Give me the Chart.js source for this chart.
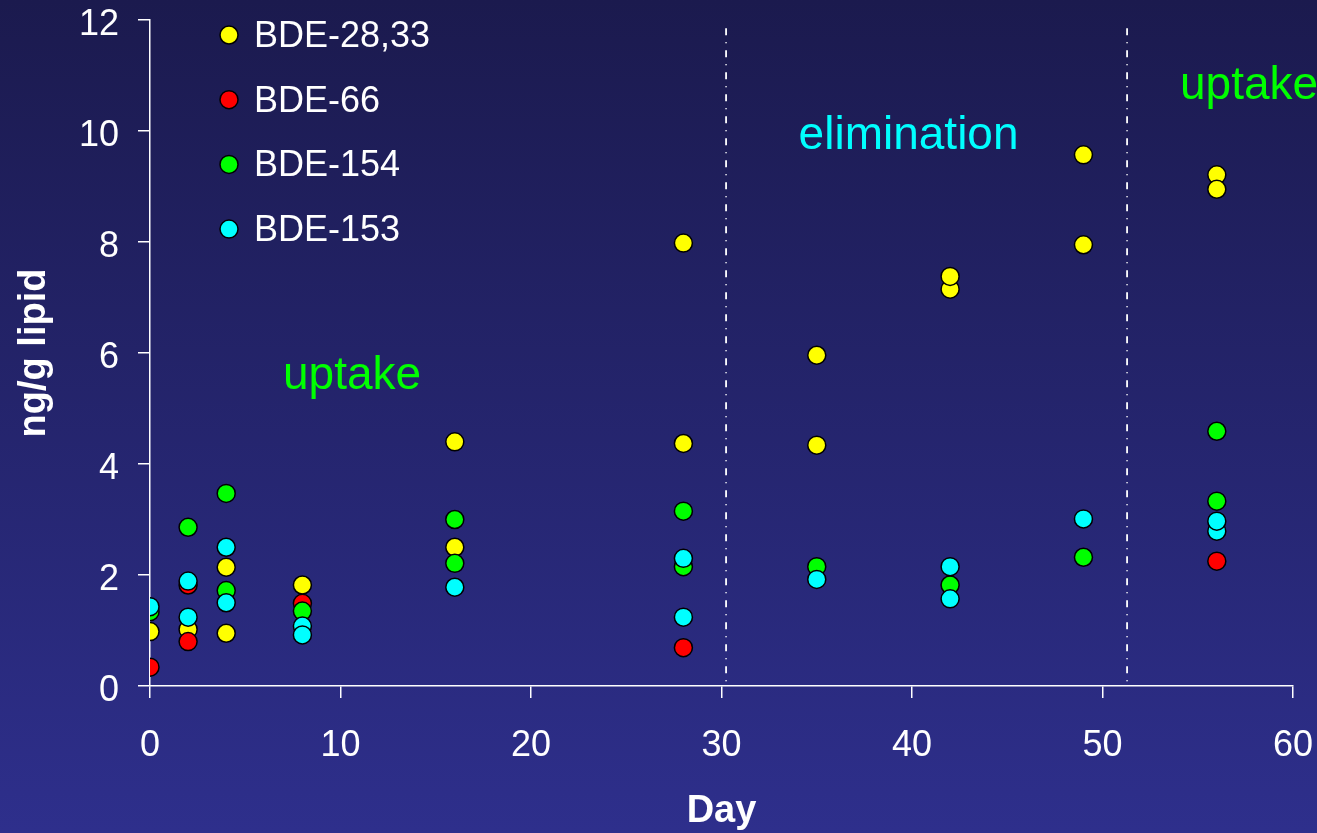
<!DOCTYPE html>
<html>
<head>
<meta charset="utf-8">
<script src="https://cdn.jsdelivr.net/npm/chart.js@4.4.1/dist/chart.umd.min.js"></script>
<style>
  html, body { margin: 0; padding: 0; }
  body { width: 1317px; height: 833px; background: linear-gradient(#1b1a4e, #2e2f8c); overflow: hidden; }
  #wrap { position: relative; width: 1317px; height: 833px; }
</style>
</head>
<body>
<div id="wrap"><canvas id="chart"></canvas></div>
<script>
  // ── 数据 ────────────────────────────────
  const seriesNames = ['BDE-28,33', 'BDE-66', 'BDE-154', 'BDE-153'];
  const seriesColors = ['#ffff00', '#ff0000', '#00ff00', '#00ffff'];

  const bde2833Days = [0, 2, 4, 4, 8, 16, 16, 28, 28, 35, 35, 42, 42, 49, 49, 56, 56];
  const bde2833Vals = [0.98, 1.02, 2.14, 0.95, 1.82, 4.40, 2.50, 7.98, 4.37, 5.96, 4.34, 7.15, 7.38, 9.57, 7.95, 9.21, 8.95];

  const bde66Days = [0, 2, 2, 8, 28, 56];
  const bde66Vals = [0.34, 1.82, 0.80, 1.49, 0.69, 2.25];

  const bde154Days = [0, 2, 4, 4, 8, 16, 16, 28, 28, 35, 42, 49, 56, 56];
  const bde154Vals = [1.34, 2.86, 3.47, 1.72, 1.35, 3.00, 2.21, 3.15, 2.15, 2.15, 1.82, 2.32, 4.59, 3.33];

  const bde153Days = [0, 2, 2, 4, 4, 8, 8, 16, 28, 28, 35, 42, 42, 49, 56, 56];
  const bde153Vals = [1.43, 1.89, 1.24, 2.50, 1.50, 1.08, 0.92, 1.78, 2.30, 1.24, 1.92, 2.15, 1.57, 3.01, 2.79, 2.97];

  const phaseBounds = [30.24, 51.29];
  const xTicks = [0, 10, 20, 30, 40, 50, 60];
  const yTicks = [0, 2, 4, 6, 8, 10, 12];
  const phaseLabels = ['uptake', 'elimination', 'uptake'];

  const FONT = '"Liberation Sans", Arial, sans-serif';

  const allDays = [bde2833Days, bde66Days, bde154Days, bde153Days];
  const allVals = [bde2833Vals, bde66Vals, bde154Vals, bde153Vals];

  const pointSets = seriesNames.map((name, s) => ({
    label: name,
    data: allDays[s].map((d, i) => ({ x: d, y: allVals[s][i] })),
    backgroundColor: seriesColors[s],
    borderColor: '#000000',
    borderWidth: 1.5,
    pointRadius: 9,
    pointHoverRadius: 9,
    showLine: false,
    order: seriesNames.length - s,   // 后画的在上面: cyan 最上
  }));

  const boundSets = phaseBounds.map(b => ({
    label: '_bound',
    data: [{ x: b, y: 11.85 }, { x: b, y: 0 }],
    showLine: true,
    borderColor: '#ffffff',
    borderWidth: 1.8,
    borderDash: [7, 7, 1, 7],
    pointRadius: 0,
    pointHoverRadius: 0,
    order: 10,
  }));

  // 图内文字
  const phaseText = {
    id: 'phaseText',
    afterDatasetsDraw(chart) {
      const { ctx, scales: { x, y } } = chart;
      const spots = [
        { x: 6.98, y: 5.35, align: 'left', color: '#00ff00' },
        { x: 39.82, y: 9.68, align: 'center', color: '#00ffff' },
        { x: 54.07, y: 10.58, align: 'left', color: '#00ff00' },
      ];
      ctx.save();
      ctx.font = '46px ' + FONT;
      ctx.textBaseline = 'alphabetic';
      phaseLabels.forEach((t, i) => {
        const p = spots[i];
        ctx.fillStyle = p.color;
        ctx.textAlign = p.align;
        ctx.fillText(t, x.getPixelForValue(p.x), y.getPixelForValue(p.y));
      });
      ctx.restore();
    },
  };

  // 竖排图例
  const sideLegend = {
    id: 'sideLegend',
    afterDraw(chart) {
      const { ctx } = chart;
      ctx.save();
      ctx.font = '36px ' + FONT;
      ctx.textAlign = 'left';
      ctx.textBaseline = 'middle';
      seriesNames.forEach((name, i) => {
        const cy = 35 + i * 64.7;
        ctx.beginPath();
        ctx.arc(229, cy, 9, 0, Math.PI * 2);
        ctx.fillStyle = seriesColors[i];
        ctx.fill();
        ctx.lineWidth = 1.5;
        ctx.strokeStyle = '#000000';
        ctx.stroke();
        ctx.fillStyle = '#ffffff';
        ctx.fillText(name, 254, cy + 2);
      });
      ctx.restore();
    },
  };

  new Chart(document.getElementById('chart'), {
    type: 'scatter',
    data: { datasets: [...pointSets, ...boundSets] },
    plugins: [phaseText, sideLegend],
    options: {
      responsive: true,
      maintainAspectRatio: false,
      animation: false,
      layout: { padding: { top: 20, right: 24, left: 0, bottom: 0 } },
      plugins: {
        legend: { display: false },
        tooltip: { enabled: false },
      },
      scales: {
        x: {
          type: 'linear',
          min: 0,
          max: 60,
          afterFit: (s) => { s.height = 147; s.paddingLeft = 0; s.paddingRight = 0; },
          afterBuildTicks: (s) => { s.ticks = xTicks.map(v => ({ value: v })); },
          border: { display: true, color: '#ffffff', width: 1.5 },
          grid: { drawOnChartArea: false, drawTicks: true, tickLength: 12, color: '#ffffff', lineWidth: 1.5 },
          ticks: { color: '#ffffff', font: { family: FONT, size: 36, lineHeight: 1 }, padding: 30, maxRotation: 0 },
          title: { display: true, text: 'Day', color: '#ffffff', font: { family: FONT, size: 38, weight: 'bold', lineHeight: 1 }, padding: { top: 0, bottom: 2 } },
        },
        y: {
          type: 'linear',
          min: 0,
          max: 12,
          afterFit: (s) => { s.width = 150; s.paddingTop = 0; s.paddingBottom = 0; },
          afterBuildTicks: (s) => { s.ticks = yTicks.map(v => ({ value: v })); },
          border: { display: true, color: '#ffffff', width: 1.5 },
          grid: { drawOnChartArea: false, drawTicks: true, tickLength: 12, color: '#ffffff', lineWidth: 1.5 },
          ticks: { color: '#ffffff', font: { family: FONT, size: 36, lineHeight: 1 }, padding: 19, labelOffset: 5 },
          title: { display: true, text: 'ng/g lipid', color: '#ffffff', font: { family: FONT, size: 38, weight: 'bold', lineHeight: 1.2 }, padding: { top: 12, bottom: 0 } },
        },
      },
    },
  });
</script>
</body>
</html>
